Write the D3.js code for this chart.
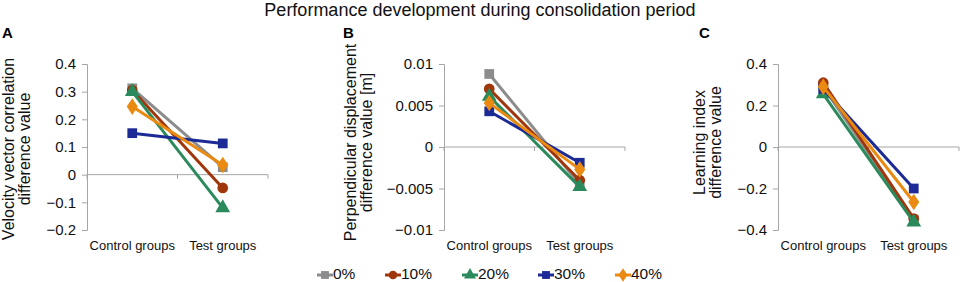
<!DOCTYPE html>
<html><head><meta charset="utf-8">
<script src="https://cdn.jsdelivr.net/npm/d3@7"></script>
<style>body{margin:0;background:#fff;}svg{display:block;font-family:"Liberation Sans",Arial,sans-serif;}</style>
</head><body><svg id="c" width="960" height="282"></svg>
<script>
const categories = ["Control groups", "Test groups"];
const seriesNames = ["0%", "10%", "20%", "30%", "40%"];
const seriesColors = ["#8c8c8c", "#a0360c", "#2a8a5c", "#1b2a94", "#eb8a10"];
const seriesShapes = ["square", "circle", "triangle", "square", "diamond"];
// Panel A: velocity vector correlation difference
const valuesA = [[0.312, 0.027], [0.306, -0.048], [0.30, -0.12], [0.15, 0.113], [0.246, 0.035]];
const ticksA = [-0.2, -0.1, 0, 0.1, 0.2, 0.3, 0.4];
// Panel B: perpendicular displacement difference [m]
const valuesB = [[0.0088, -0.0045], [0.0070, -0.0040], [0.0061, -0.0048], [0.0043, -0.0019], [0.0053, -0.0027]];
const ticksB = [-0.01, -0.005, 0, 0.005, 0.01];
// Panel C: learning index difference
const valuesC = [[0.29, -0.35], [0.31, -0.345], [0.255, -0.362], [0.28, -0.20], [0.29, -0.265]];
const ticksC = [-0.4, -0.2, 0, 0.2, 0.4];

const svg = d3.select("#c");
svg.append("text").attr("x", 480).attr("y", 16).attr("text-anchor", "middle")
  .attr("font-size", 18).attr("fill", "#111").text("Performance development during consolidation period");

const panels = [
  {label: "A", lx: 2, axisX: 87, xEnd: 268, ticks: ticksA, vals: valuesA, fmt: d => d === 0 ? "0" : d3.format(".1f")(d),
   title: ["Velocity vector correlation", "difference value"], tx: [14, 29.5], cy: 149, dom: [-0.2, 0.4]},
  {label: "B", lx: 343, axisX: 444, xEnd: 625, ticks: ticksB, vals: valuesB, fmt: d => d === 0 ? "0" : (Math.abs(d) === 0.01 ? d3.format(".2f")(d) : d3.format(".3f")(d)),
   title: ["Perpendicular displacement", "difference value [m]"], tx: [355.5, 371.5], cy: 142.5, dom: [-0.01, 0.01]},
  {label: "C", lx: 699, axisX: 778, xEnd: 959, ticks: ticksC, vals: valuesC, fmt: d => d === 0 ? "0" : d3.format(".1f")(d),
   title: ["Learning index", "difference value"], tx: [705, 721], cy: 142.5, dom: [-0.4, 0.4]}
];

const symType = {square: d3.symbolSquare, circle: d3.symbolCircle, triangle: d3.symbolTriangle, diamond: d3.symbolDiamond};
const symSize = {square: 95, circle: 90, triangle: 95, diamond: 80};

function drawMarker(g, shape, color, x, y, scale) {
  g.append("path").attr("d", d3.symbol().type(symType[shape]).size(symSize[shape] * (scale || 1))())
    .attr("transform", `translate(${x},${y})` + (shape === "diamond" ? " scale(1.15,1)" : ""))
    .attr("fill", color);
}

panels.forEach(p => {
  const y = d3.scaleLinear().domain(p.dom).range([230, 64]);
  const x = d3.scalePoint().domain(categories).range([p.axisX, p.xEnd]).padding(0.5);
  const g = svg.append("g");
  g.append("text").attr("x", p.lx).attr("y", 38).attr("font-weight", "bold").attr("font-size", 15).attr("fill", "#000").text(p.label);
  // y axis
  const ya = g.append("g").attr("transform", `translate(${p.axisX},0)`)
    .call(d3.axisLeft(y).tickValues(p.ticks).tickFormat(p.fmt).tickSize(5).tickPadding(6));
  ya.select(".domain").attr("stroke", "#a6a6a6");
  ya.selectAll(".tick line").attr("stroke", "#a6a6a6");
  ya.selectAll(".tick text").attr("font-size", 15).attr("fill", "#111").attr("font-family", "Liberation Sans, Arial, sans-serif");
  // x axis at zero
  const y0 = y(0);
  g.append("line").attr("x1", p.axisX).attr("x2", p.xEnd).attr("y1", y0).attr("y2", y0).attr("stroke", "#a6a6a6");
  [p.axisX, (p.axisX + p.xEnd) / 2, p.xEnd].forEach(tx => {
    g.append("line").attr("x1", tx).attr("x2", tx).attr("y1", y0).attr("y2", y0 + 4).attr("stroke", "#a6a6a6");
  });
  categories.forEach(c => {
    g.append("text").attr("x", x(c)).attr("y", 250).attr("text-anchor", "middle").attr("font-size", 13).attr("fill", "#111").text(c);
  });
  // axis title
  p.title.forEach((t, i) => {
    g.append("text").attr("transform", `translate(${p.tx[i]},${p.cy}) rotate(-90)`).attr("text-anchor", "middle")
      .attr("font-size", 16).attr("fill", "#111").text(t);
  });
  // series
  p.vals.forEach((vals, si) => {
    const pts = vals.map((v, i) => [x(categories[i]), y(v)]);
    g.append("path").attr("d", d3.line()(pts)).attr("stroke", seriesColors[si]).attr("stroke-width", 3).attr("fill", "none");
    pts.forEach(pt => drawMarker(g, seriesShapes[si], seriesColors[si], pt[0], pt[1]));
  });
});

// legend
const legX = [317, 385, 462, 538, 615];
seriesNames.forEach((n, i) => {
  const g = svg.append("g");
  g.append("line").attr("x1", legX[i]).attr("x2", legX[i] + 16).attr("y1", 275).attr("y2", 275).attr("stroke", seriesColors[i]).attr("stroke-width", 3);
  drawMarker(g, seriesShapes[i], seriesColors[i], legX[i] + 8, 275, 0.65);
  g.append("text").attr("x", legX[i] + 16).attr("y", 279).attr("font-size", 15.5).attr("fill", "#111").text(n);
});
</script></body></html>
